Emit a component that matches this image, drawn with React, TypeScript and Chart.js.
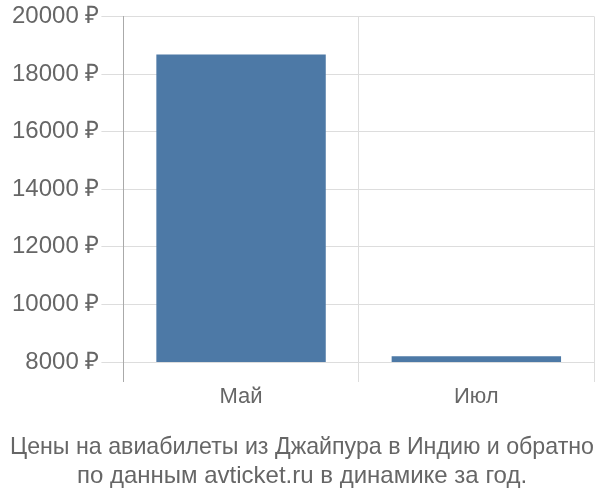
import React, { useEffect, useRef } from "react";
import { Chart, registerables } from "chart.js";

Chart.register(...registerables);

const months = ["Май", "Июл"];
const prices = [18680, 8200];
const titleLines = [
    "Цены на авиабилеты из Джайпура в Индию и обратно",
    "по данным avticket.ru в динамике за год.",
];

export default function App() {
    const canvasRef = useRef<HTMLCanvasElement | null>(null);

    useEffect(() => {
        if (!canvasRef.current) return;
        const chart = new Chart(canvasRef.current, {
            type: "bar",
            data: {
                labels: months,
                datasets: [
                    {
                        data: prices,
                        backgroundColor: "#4d79a6",
                        borderWidth: 0,
                    },
                ],
            },
            options: {
                animation: false,
                responsive: true,
                maintainAspectRatio: false,
                layout: { padding: { top: -2, right: 6, left: 10, bottom: 9 } },
                plugins: {
                    legend: { display: false },
                    tooltip: { enabled: false },
                    title: {
                        display: true,
                        position: "bottom",
                        text: titleLines,
                        color: "#666",
                        font: { family: "Liberation Sans", size: 24, weight: "normal" },
                        padding: { top: 21, bottom: 0 },
                        lineHeight: 1.0,
                    },
                },
                scales: {
                    x: {
                        border: { display: false },
                        grid: {
                            color: "#dddddd",
                            tickColor: (ctx: any) => (ctx.index === 0 ? "#aaaaaa" : "#dddddd"),
                            tickLength: 20,
                            offset: true,
                        },
                        ticks: {
                            color: "#666",
                            font: { family: "Liberation Sans", size: 22 },
                            padding: 2,
                        },
                    },
                    y: {
                        min: 8000,
                        max: 20000,
                        border: { display: true, color: "#aaaaaa" },
                        grid: { color: "#dddddd", tickLength: 22 },
                        ticks: {
                            stepSize: 2000,
                            color: "#666",
                            font: { family: "Liberation Sans", size: 24 },
                            padding: 2,
                            callback: (v: any) => v + " ₽",
                        },
                    },
                },
            },
        });
        return () => chart.destroy();
    }, []);

    return (
        <div style={{ position: "absolute", left: 0, top: 0, width: 600, height: 500 }}>
            <canvas ref={canvasRef}></canvas>
        </div>
    );
}
